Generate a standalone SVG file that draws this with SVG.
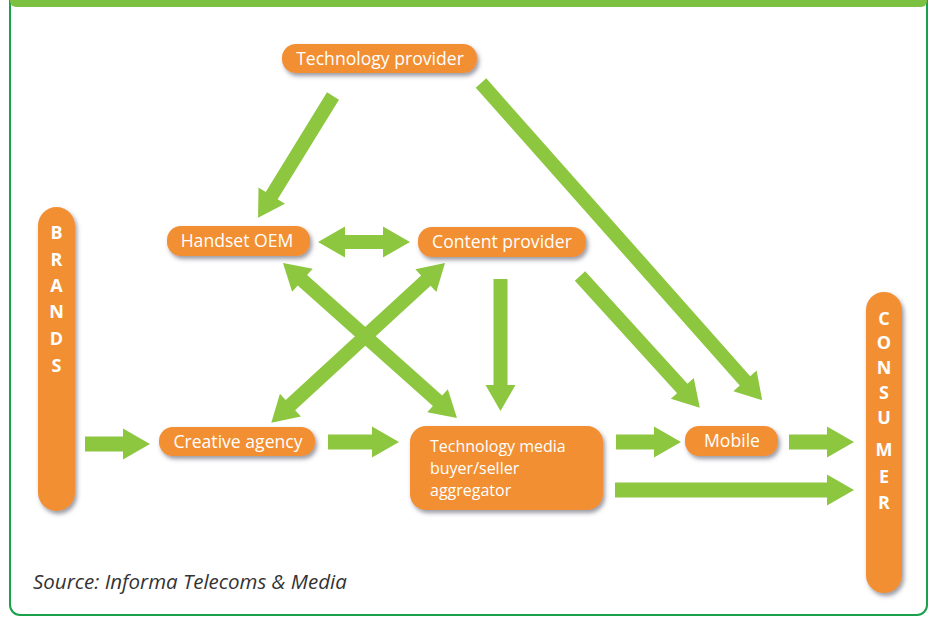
<svg xmlns="http://www.w3.org/2000/svg" width="933" height="618" viewBox="0 0 933 618">
<defs>
<filter id="sh" x="-20%" y="-20%" width="150%" height="150%">
<feDropShadow dx="2" dy="3" stdDeviation="2.2" flood-color="#4a4a5a" flood-opacity="0.55"/>
</filter>
</defs>
<style>
.node{fill:#f28f33;filter:url(#sh)}
.lbl{font-family:"Open Sans","Noto Sans",sans-serif;font-size:17.6px;fill:#ffffff}
.ml{font-family:"Open Sans","Noto Sans",sans-serif;font-size:16px;fill:#ffffff}
.mid{text-anchor:middle}
.vl{font-family:"Open Sans","Noto Sans",sans-serif;font-size:18px;font-weight:bold;fill:#ffffff;text-anchor:middle}
.arr{fill:#8dc63f}
</style>
<rect x="0" y="0" width="933" height="618" fill="#ffffff"/>
<rect x="10" y="-12" width="917" height="627" rx="10" fill="none" stroke="#1aa14b" stroke-width="2"/>
<path d="M10,0 H927 V1 a6,6 0 0 1 -6,6 H16 a6,6 0 0 1 -6,-6 Z" fill="#7dc142"/>

<g id="connectors">
<polygon class="arr" points="0,-7 117,-7 117,-15.5 143,0 117,15.5 117,7 0,7" transform="translate(333,96) rotate(121.6)"/>
<polygon class="arr" points="0,-7 398,-7 398,-15.5 424,0 398,15.5 398,7 0,7" transform="translate(481,83) rotate(48.45)"/>
<polygon class="arr" points="0,-7 152,-7 152,-15.5 178,0 152,15.5 152,7 0,7" transform="translate(580,276) rotate(47.7)"/>
<polygon class="arr" points="0,-7 106,-7 106,-15 132,0 106,15 106,7 0,7" transform="translate(500.5,279) rotate(90)"/>
<polygon class="arr" points="0,0 27,-15.5 27,-7 65,-7 65,-15.5 92,0 65,15.5 65,7 27,7 27,15.5" transform="translate(318,242)"/>
<polygon class="arr" points="0,0 26,-15.5 26,-7 207,-7 207,-15.5 233,0 207,15.5 207,7 26,7 26,15.5" transform="translate(283,263) rotate(41.7)"/>
<polygon class="arr" points="0,0 26,-15.5 26,-7 210,-7 210,-15.5 236,0 210,15.5 210,7 26,7 26,15.5" transform="translate(445,263) rotate(137.4)"/>
<polygon class="arr" points="0,-7.5 38,-7.5 38,-15.5 65,0 38,15.5 38,7.5 0,7.5" transform="translate(85,444)"/>
<polygon class="arr" points="0,-7.5 44,-7.5 44,-15.5 71,0 44,15.5 44,7.5 0,7.5" transform="translate(328,442)"/>
<polygon class="arr" points="0,-7.5 38,-7.5 38,-15.5 65,0 38,15.5 38,7.5 0,7.5" transform="translate(616,442)"/>
<polygon class="arr" points="0,-7.5 38,-7.5 38,-15.5 65,0 38,15.5 38,7.5 0,7.5" transform="translate(789,442)"/>
<polygon class="arr" points="0,-7.5 212,-7.5 212,-15.5 239,0 212,15.5 212,7.5 0,7.5" transform="translate(615,490)"/>
</g>

<g id="tech-provider">
<rect class="node" x="282" y="44" width="195" height="29" rx="14"/>
<text class="lbl mid" x="380" y="64.5">Technology provider</text>
</g>
<g id="handset-oem">
<rect class="node" x="167" y="226" width="143" height="30" rx="14"/>
<text class="lbl mid" x="237" y="247">Handset OEM</text>
</g>
<g id="content-provider">
<rect class="node" x="418" y="227" width="168" height="30" rx="14"/>
<text class="lbl mid" x="502" y="248">Content provider</text>
</g>
<g id="creative-agency">
<rect class="node" x="159" y="427" width="156" height="29" rx="14"/>
<text class="lbl mid" x="238" y="447.5">Creative agency</text>
</g>
<g id="tech-media">
<rect class="node" x="410" y="426" width="193" height="84" rx="16"/>
<text class="ml" x="430" y="452">Technology media</text>
<text class="ml" x="430" y="474">buyer/seller</text>
<text class="ml" x="430" y="496">aggregator</text>
</g>
<g id="mobile">
<rect class="node" x="685" y="426" width="93" height="30" rx="14"/>
<text class="lbl mid" x="732" y="447">Mobile</text>
</g>
<g id="brands">
<rect class="node" x="38" y="207" width="37" height="304" rx="18.5"/>
<text class="vl" x="56.5" y="239">B</text>
<text class="vl" x="56.5" y="266">R</text>
<text class="vl" x="56.5" y="292">A</text>
<text class="vl" x="56.5" y="318">N</text>
<text class="vl" x="56.5" y="345">D</text>
<text class="vl" x="56.5" y="372">S</text>
</g>
<g id="consumer">
<rect class="node" x="866" y="292" width="36" height="301" rx="18"/>
<text class="vl" x="884" y="325">C</text>
<text class="vl" x="884" y="349">O</text>
<text class="vl" x="884" y="374">N</text>
<text class="vl" x="884" y="399">S</text>
<text class="vl" x="884" y="424">U</text>
<text class="vl" x="884" y="456">M</text>
<text class="vl" x="884" y="483">E</text>
<text class="vl" x="884" y="509">R</text>
</g>
<text x="33" y="589" font-family="'Open Sans','Noto Sans',sans-serif" font-size="20.5" font-style="italic" fill="#333333">Source: Informa Telecoms &amp; Media</text>
</svg>
